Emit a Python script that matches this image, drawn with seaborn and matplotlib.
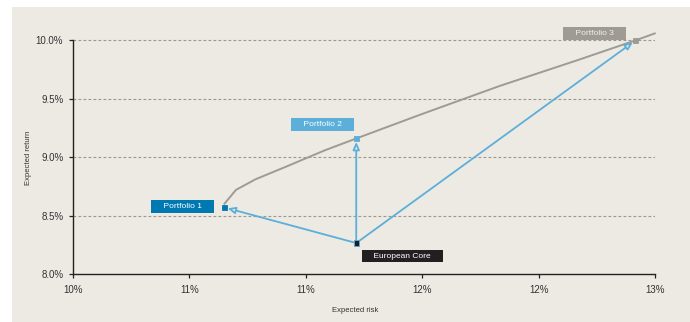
import matplotlib
matplotlib.use("Agg")
import matplotlib.pyplot as plt
import matplotlib.patches as mpatches
from matplotlib.ticker import FuncFormatter
import seaborn as sns
import pandas as pd

# ---- data ----
frontier_risk = [10.78, 10.84, 10.94, 11.10, 11.30, 11.46, 11.80, 12.20, 12.60, 12.90, 13.00]
frontier_ret = [8.60, 8.72, 8.81, 8.92, 9.06, 9.16, 9.37, 9.61, 9.83, 10.00, 10.06]

point_names = ["European Core", "Portfolio 1", "Portfolio 2", "Portfolio 3"]
point_risk = [11.46, 10.78, 11.46, 12.90]
point_ret = [8.265, 8.57, 9.16, 10.00]

x_ticks = [10.0, 10.6, 11.2, 11.8, 12.4, 13.0]
y_ticks = [8.0, 8.5, 9.0, 9.5, 10.0]
x_label = "Expected risk"
y_label = "Expected return"

# ---- styles ----
BG = "#EDEAE4"
GREY = "#A09A95"
LBLUE = "#5BAFD9"
DBLUE = "#0079B2"
BLACK = "#231F20"
point_colors = [BLACK, DBLUE, LBLUE, GREY]
point_edges = [LBLUE, DBLUE, LBLUE, GREY]
label_offsets = [(46, -13), (-42, 1), (-34, 14), (-41, 7)]  # pixels

sns.set_theme(style="white")
plt.rcParams["font.family"] = ["Liberation Sans", "DejaVu Sans"]

fig = plt.figure(figsize=(6.9, 3.22), dpi=100)
fig.patch.set_facecolor("white")
fig.patches.append(mpatches.Rectangle((12 / 690, 0), 1 - 12 / 690, 315 / 322,
                                      transform=fig.transFigure, facecolor=BG,
                                      edgecolor="none", zorder=-10))

ax = fig.add_axes([73 / 690, 48 / 322, 582 / 690, 243 / 322])
ax.set_zorder(1)
ax.set_facecolor("none")

front = pd.DataFrame({"risk": frontier_risk, "ret": frontier_ret})
sns.lineplot(data=front, x="risk", y="ret", ax=ax, color=GREY, lw=1.4,
             sort=False, zorder=3, clip_on=False)

# arrows from European Core to portfolios
for i in range(1, 4):
    ax.annotate("", xy=(point_risk[i], point_ret[i]),
                xytext=(point_risk[0], point_ret[0]),
                arrowprops=dict(arrowstyle="-|>,head_length=0.45,head_width=0.2",
                                mutation_scale=10, color=LBLUE, fc=BG, lw=1.3,
                                shrinkA=0, shrinkB=2.5),
                zorder=4)

pts = pd.DataFrame({"risk": point_risk, "ret": point_ret, "name": point_names})
sns.scatterplot(data=pts, x="risk", y="ret", hue="name", palette=dict(zip(point_names, point_colors)),
                marker="s", s=14, linewidth=0.6, edgecolor=point_edges, ax=ax,
                legend=False, zorder=5, clip_on=False)

for name, xr, yr, c, off in zip(point_names, point_risk, point_ret, point_colors, label_offsets):
    ax.annotate("    " + name + "    ", xy=(xr, yr), xytext=off, textcoords="offset pixels",
                ha="center", va="center", fontsize=6, color="white" if c != GREY else "#F2F0EC",
                bbox=dict(boxstyle="square,pad=0.32", fc=c, ec="none"), zorder=6)

ax.set_xlim(10.0, 13.0)
ax.set_ylim(8.0, 10.08)
ax.set_xticks(x_ticks)
ax.set_yticks(y_ticks)
ax.xaxis.set_major_formatter(FuncFormatter(lambda v, p: f"{v:.0f}%"))
ax.yaxis.set_major_formatter(FuncFormatter(lambda v, p: f"{v:.1f}%"))
ax.tick_params(axis="both", which="both", length=3, width=0.9, color="#222222",
               labelsize=7, labelcolor="#333333", direction="out", bottom=True, left=True)
ax.tick_params(axis="x", pad=5)
ax.tick_params(axis="y", pad=4)

for yv in y_ticks[1:]:
    ax.axhline(yv, color="#9A9690", lw=0.8, ls=(0, (2.5, 2)), zorder=1)

for s in ["top", "right"]:
    ax.spines[s].set_visible(False)
for s in ["left", "bottom"]:
    ax.spines[s].set_color("#222222")
    ax.spines[s].set_linewidth(1.0)
ax.spines["left"].set_bounds(8.0, 10.0)

ax.set_xlabel(x_label, fontsize=5.5, color="#333333")
ax.set_ylabel(y_label, fontsize=5.5, color="#333333")
ax.xaxis.set_label_coords((355 - 73) / 582, (274 - 307) / 243)
ax.yaxis.set_label_coords((32 - 73) / 582, 0.48)

fig.savefig("out.png", dpi=100, facecolor=fig.get_facecolor())
